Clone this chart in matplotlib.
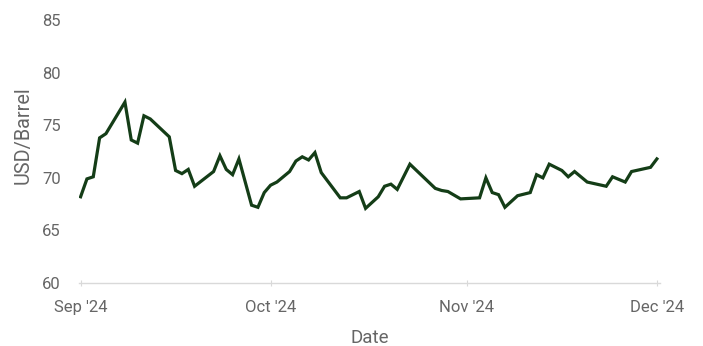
import matplotlib.pyplot as plt
import numpy             as np
import pandas            as pd

plt.rcParams['font.family'] = ['Roboto', 'DejaVu Sans']

# price readings (USD/Barrel)
dates  = ["2024-09-01", "2024-09-02", "2024-09-03", "2024-09-04", "2024-09-05", "2024-09-08",
          "2024-09-09", "2024-09-10", "2024-09-11", "2024-09-12", "2024-09-15", "2024-09-16",
          "2024-09-17", "2024-09-18", "2024-09-19", "2024-09-22", "2024-09-23", "2024-09-24",
          "2024-09-25", "2024-09-26", "2024-09-28", "2024-09-29", "2024-09-30",
          "2024-10-01", "2024-10-02", "2024-10-04", "2024-10-05", "2024-10-06", "2024-10-07",
          "2024-10-08", "2024-10-09", "2024-10-12", "2024-10-13", "2024-10-15", "2024-10-16",
          "2024-10-18", "2024-10-19", "2024-10-20", "2024-10-21", "2024-10-23", "2024-10-27",
          "2024-10-28", "2024-10-29", "2024-10-31",
          "2024-11-03", "2024-11-04", "2024-11-05", "2024-11-06", "2024-11-07", "2024-11-09",
          "2024-11-11", "2024-11-12", "2024-11-13", "2024-11-14", "2024-11-16", "2024-11-17",
          "2024-11-18", "2024-11-20", "2024-11-23", "2024-11-24", "2024-11-26", "2024-11-27",
          "2024-11-30", "2024-12-01"]
prices = [68.2, 69.9, 70.1, 73.8, 74.2, 77.2,
          73.6, 73.3, 75.9, 75.6, 73.9, 70.7,
          70.4, 70.8, 69.2, 70.6, 72.1, 70.8,
          70.3, 71.8, 67.4, 67.2, 68.6,
          69.3, 69.6, 70.6, 71.6, 72.0, 71.7,
          72.4, 70.5, 68.1, 68.1, 68.7, 67.1,
          68.2, 69.2, 69.4, 68.9, 71.3, 69.0,
          68.8, 68.7, 68.0,
          68.1, 70.0, 68.6, 68.4, 67.2, 68.3,
          68.6, 70.3, 70.0, 71.3, 70.7, 70.1,
          70.6, 69.6, 69.2, 70.1, 69.6, 70.6,
          71.0, 71.8]
tickDates  = ["2024-09-01", "2024-10-01", "2024-11-01", "2024-12-01"]
tickLabels = ["Sep '24", "Oct '24", "Nov '24", "Dec '24"]
yTicks     = [60, 65, 70, 75, 80, 85]

x = pd.to_datetime(dates)
grey = '#666666'

fig = plt.figure(figsize=(7.03, 3.46), dpi=100)
ax  = fig.add_axes([0.1124, 0.182, 0.8265, 0.760])
ax.plot(x, prices, color='#143d17', linewidth=2.3, solid_joinstyle='miter')

ax.set_ylim(60, 85)
ax.set_yticks(yTicks)
ax.set_xlim(pd.Timestamp("2024-08-31 18:00"), pd.Timestamp("2024-12-01 12:00"))
ax.set_xticks(pd.to_datetime(tickDates))
ax.set_xticklabels(tickLabels)

for s in ['top', 'right', 'left']:
    ax.spines[s].set_visible(False)
ax.spines['bottom'].set_color('#d9d9d9')
ax.spines['bottom'].set_linewidth(1.0)
ax.tick_params(axis='y', length=0, pad=13, labelsize=12, labelcolor=grey)
ax.tick_params(axis='x', length=5, direction='inout', color='#d9d9d9', pad=10,
               labelsize=12, labelcolor=grey)

ax.set_xlabel('Date', fontsize=13.5, color=grey, labelpad=10)
ax.set_ylabel('USD/Barrel', fontsize=14.3, color=grey)
ax.yaxis.set_label_coords(-0.079, 0.563)

fig.savefig('out.png', dpi=100)
